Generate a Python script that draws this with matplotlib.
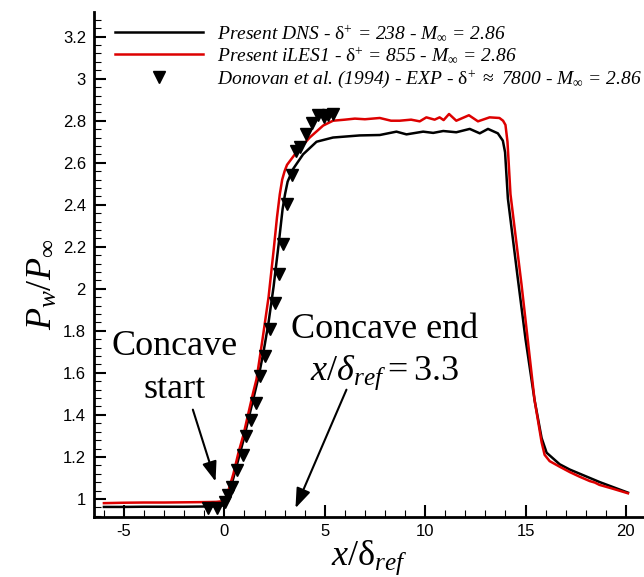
import numpy as np
import matplotlib.pyplot as plt
from matplotlib.ticker import MultipleLocator, FuncFormatter

plt.rcParams['font.family'] = 'Liberation Sans'
plt.rcParams['axes.unicode_minus'] = False
plt.rcParams['mathtext.fontset'] = 'custom'
plt.rcParams['mathtext.rm'] = 'Liberation Serif'
plt.rcParams['mathtext.it'] = 'Liberation Serif:italic'
plt.rcParams['mathtext.bf'] = 'Liberation Serif:bold'

# wall pressure, DNS
x_dns = [-6.0, -5.0, -4.0, -3.0, -2.0, -1.0, -0.3, 0.0, 0.2, 0.45, 0.7, 0.95, 1.2,
         1.45, 1.7, 1.95, 2.2, 2.45, 2.7, 2.9, 3.02, 3.15, 3.42, 3.92, 4.59, 5.41,
         6.74, 7.74, 8.57, 9.07, 9.9, 10.4, 10.9, 11.55, 12.22, 12.72, 13.13, 13.62,
         13.87, 13.98, 14.12, 14.6, 15.0, 15.45, 15.8, 16.05, 16.7, 17.2, 17.7, 18.2,
         18.7, 19.4, 20.1]
p_dns = [0.962, 0.962, 0.963, 0.963, 0.963, 0.964, 0.965, 0.97, 1.02, 1.10, 1.19,
         1.28, 1.38, 1.48, 1.58, 1.70, 1.84, 2.01, 2.21, 2.38, 2.45, 2.51, 2.57, 2.64,
         2.70, 2.72, 2.73, 2.732, 2.748, 2.735, 2.748, 2.742, 2.751, 2.745, 2.761,
         2.74, 2.761, 2.74, 2.705, 2.65, 2.43, 2.06, 1.76, 1.47, 1.29, 1.22, 1.165,
         1.14, 1.12, 1.10, 1.08, 1.055, 1.03]

# wall pressure, iLES1
x_les = [-6.0, -5.0, -4.0, -3.0, -2.0, -1.0, -0.4, 0.0, 0.2, 0.45, 0.7, 0.95, 1.2,
         1.43, 1.6, 1.9, 2.2, 2.46, 2.62, 2.76, 2.88, 3.0, 3.12, 3.59, 4.25, 4.92,
         5.41, 6.0, 6.5, 7.0, 7.74, 8.3, 8.73, 9.3, 9.73, 10.06, 10.47, 10.72, 10.92,
         11.19, 11.55, 12.18, 12.63, 13.21, 13.7, 13.88, 14.0, 14.1, 14.25, 14.8,
         15.45, 15.8, 15.95, 16.2, 16.69, 17.2, 17.69, 18.2, 18.45, 18.68, 19.3, 20.1]
p_les = [0.980, 0.982, 0.983, 0.983, 0.984, 0.985, 0.986, 0.99, 1.04, 1.12, 1.22,
         1.305, 1.41, 1.505, 1.57, 1.76, 1.96, 2.19, 2.34, 2.45, 2.52, 2.56, 2.59,
         2.65, 2.72, 2.777, 2.80, 2.805, 2.81, 2.807, 2.813, 2.80, 2.80, 2.805, 2.797,
         2.816, 2.805, 2.816, 2.803, 2.832, 2.80, 2.826, 2.797, 2.816, 2.813, 2.80,
         2.78, 2.70, 2.45, 2.02, 1.47, 1.27, 1.21, 1.18, 1.154, 1.128, 1.106, 1.085,
         1.078, 1.067, 1.05, 1.027]

# Donovan et al. (1994) experiment
x_exp = [-0.81, -0.39, 0.02, 0.19, 0.36, 0.61, 0.94, 1.10, 1.35, 1.56, 1.77, 2.01,
         2.26, 2.51, 2.73, 2.93, 3.14, 3.39, 3.59, 3.76, 4.05, 4.34, 4.67, 4.95,
         5.16, 5.41]
p_exp = [0.956, 0.956, 0.987, 1.019, 1.059, 1.138, 1.21, 1.30, 1.375, 1.457, 1.584,
         1.679, 1.807, 1.934, 2.069, 2.212, 2.403, 2.542, 2.658, 2.674, 2.737, 2.79,
         2.825, 2.817, 2.825, 2.833]

labels = [r'Present DNS - $\mathrm{\delta}^{+}$ = 238 - $M_{\infty}$ = 2.86',
          r'Present iLES1 - $\mathrm{\delta}^{+}$ = 855 - $M_{\infty}$ = 2.86',
          r'Donovan et al. (1994) - EXP - $\mathrm{\delta}^{+}$ $\approx$ 7800 - $M_{\infty}$ = 2.86']

# arrow (tail, tip) for the ramp start / end notes
start_arrow = ((-1.57, 1.425), (-0.44, 1.083))
end_arrow = ((6.08, 1.52), (3.54, 0.956))

fig = plt.figure(figsize=(6.44, 5.77), dpi=100)
ax = fig.add_axes([0.1464, 0.1045, 0.8536, 0.8742])

ax.plot(x_dns, p_dns, color='black', lw=1.8, label=labels[0])
ax.plot(x_les, p_les, color='#dd0000', lw=1.8, label=labels[1])
ax.plot(x_exp, p_exp, 'v', color='black', ms=9, label=labels[2])

ax.set_xlim(-6.48, 20.9)
ax.set_ylim(0.9155, 3.316)

for s in ['top', 'right']:
    ax.spines[s].set_visible(False)
for s in ['left', 'bottom']:
    ax.spines[s].set_linewidth(2)

ax.xaxis.set_major_locator(MultipleLocator(5))
ax.xaxis.set_minor_locator(MultipleLocator(1))
ax.yaxis.set_major_locator(MultipleLocator(0.2))
ax.yaxis.set_minor_locator(MultipleLocator(0.04))
fmt = FuncFormatter(lambda v, pos: '%g' % round(v, 3))
ax.xaxis.set_major_formatter(fmt)
ax.yaxis.set_major_formatter(fmt)
ax.tick_params(which='major', direction='in', length=8.6, width=1.5, labelsize=12,
               top=False, right=False)
ax.tick_params(which='minor', direction='in', length=5, width=0.8, top=False, right=False)
ax.tick_params(axis='y', which='major', pad=6)
ax.tick_params(axis='x', which='major', pad=5)

ax.set_xlabel(r'$x/\mathrm{\delta}_{ref}$', fontsize=26, labelpad=0)
ax.set_ylabel(r'$P_w/P_\infty$', fontsize=26)
ax.yaxis.set_label_coords(-0.062, 0.46)

serif = 'Liberation Serif'
ax.text(-2.46, 1.687, 'Concave', family=serif, fontsize=26, ha='center', va='baseline')
ax.text(-2.46, 1.482, 'start', family=serif, fontsize=26, ha='center', va='baseline')
ax.text(7.98, 1.768, 'Concave end', family=serif, fontsize=26, ha='center', va='baseline')
ax.text(7.98, 1.568, r'$x/\delta_{ref} = 3.3$', fontsize=26, ha='center', va='baseline')

for tail, tip in [start_arrow, end_arrow]:
    ax.annotate('', xy=tip, xytext=tail,
                arrowprops=dict(arrowstyle='-|>,head_length=0.6,head_width=0.22',
                                color='black', lw=1.5, shrinkA=0, shrinkB=0,
                                mutation_scale=20))

ax.legend(loc='upper left', bbox_to_anchor=(114.7 / 644, (577 - 24) / 577),
          bbox_transform=fig.transFigure, frameon=False, numpoints=1,
          prop={'family': serif, 'style': 'italic', 'size': 14},
          handlelength=4.55, handletextpad=0.72, labelspacing=0.15,
          borderpad=0, borderaxespad=0)

fig.savefig('out.png', dpi=100)
